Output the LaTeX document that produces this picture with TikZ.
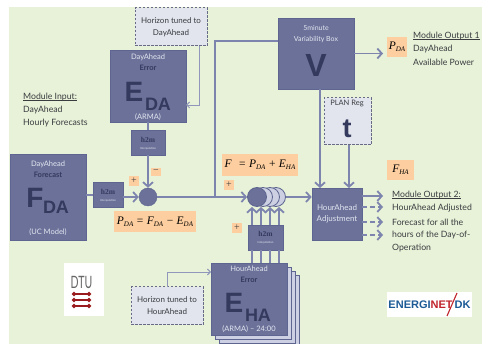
\documentclass[tikz,border=0pt]{standalone}
\usepackage{fontspec}
\setmainfont{Lato}
\newfontfamily\eqfont{Liberation Serif}
\newfontfamily\bigfont{Liberation Sans}
\usetikzlibrary{arrows.meta}
\definecolor{pagegreen}{HTML}{E8F2D8}
\definecolor{boxblue}{HTML}{6B7199}
\definecolor{boxedge}{HTML}{5D6590}
\definecolor{darkink}{HTML}{343A5E}
\definecolor{paleink}{HTML}{E3E6F0}
\definecolor{dashfill}{HTML}{E2E5EE}
\definecolor{flowblue}{HTML}{7D85AF}
\definecolor{stackfill}{HTML}{CDD0E2}
\definecolor{sumorange}{HTML}{FDCFA0}
\definecolor{textgrey}{HTML}{3A3C40}
\definecolor{dtured}{HTML}{9A1B1E}
\definecolor{enblue}{HTML}{1C5A96}
\definecolor{enred}{HTML}{C0242C}
\newcommand{\low}[1]{\raisebox{-.45ex}{\scriptsize #1}}
\tikzset{
  bluebox/.style={rectangle,fill=boxblue,draw=boxedge,line width=.6pt,inner sep=0pt},
  pagebox/.style={rectangle,fill=stackfill,draw=boxedge,line width=.6pt,inner sep=0pt,minimum width=76pt,minimum height=72pt},
  dashbox/.style={rectangle,fill=dashfill,draw=darkink!75,dash pattern=on 2.5pt off 1.5pt,line width=1pt,inner sep=0pt,align=center,text=textgrey,font=\fontsize{8}{12}\selectfont},
  sumbox/.style={rectangle,fill=sumorange,inner sep=0pt,text=black,font=\eqfont\itshape\fontsize{11.5}{12}\selectfont},
  signbox/.style={rectangle,fill=sumorange,inner sep=0pt,minimum size=10pt,text=textgrey,font=\eqfont\fontsize{10}{10}\selectfont},
  title/.style={text=paleink,inner sep=0pt,font=\fontsize{7.5}{10}\selectfont,align=center},
  dark/.style={text=darkink,inner sep=0pt,font=\bfseries\fontsize{7.5}{10}\selectfont},
  big/.style={text=darkink,inner sep=0pt,font=\bigfont\bfseries\fontsize{28}{28}\selectfont},
  subs/.style={text=darkink,inner sep=0pt,font=\bigfont\bfseries\fontsize{18}{18}\selectfont},
  small/.style={text=paleink,inner sep=0pt,font=\fontsize{2.8}{3}\selectfont},
  hhm/.style={text=darkink,inner sep=0pt,font=\eqfont\bfseries\fontsize{7.5}{8}\selectfont},
  note/.style={text=textgrey,inner sep=0pt,anchor=west,font=\fontsize{8.7}{10}\selectfont},
  flow/.style={draw=flowblue,line width=1.8pt,-{Straight Barb[length=4.5pt,width=10pt,line width=1.8pt]}},
  plain/.style={draw=flowblue,line width=1.8pt},
  thin flow/.style={draw=flowblue!85,line width=.9pt,-{Straight Barb[length=3pt,width=6pt,line width=.9pt]}}
}
\begin{document}
\begin{tikzpicture}[x=1pt,y=-1pt]
  \useasboundingbox (0,0) rectangle (482,344);
  \fill[white] (0,0) rectangle (482,344);
  \fill[pagegreen] (9,7) rectangle (482,344);

  % boxes
  \node[dashbox,minimum width=72pt,minimum height=38pt] (hzda) at (171,27) {Horizon tuned to\\DayAhead};
  \node[bluebox,minimum width=76pt,minimum height=72pt] (eda) at (148,86) {};
  \node[bluebox,minimum width=34pt,minimum height=25pt] (hda) at (148,142.5) {};
  \node[bluebox,minimum width=76pt,minimum height=86pt] (fda) at (48,197) {};
  \node[bluebox,minimum width=30pt,minimum height=25pt] (hfc) at (108,195) {};
  \node[circle,fill=boxblue,draw=boxedge,minimum size=18pt,inner sep=0pt] (sum) at (148,197) {};
  \node[bluebox,minimum width=76pt,minimum height=71pt] (vbox) at (316,53.5) {};
  \node[dashbox,minimum width=47pt,minimum height=47pt] (plan) at (347.5,121.5) {};
  \node[bluebox,minimum width=50pt,minimum height=52pt] (adj) at (337,214) {};
  \node[bluebox,minimum width=35pt,minimum height=25pt] (hha) at (265.5,237.5) {};
  \node[dashbox,minimum width=72pt,minimum height=38pt] (hzha) at (167,306) {Horizon tuned to\\HourAhead};

  % stack of hour ahead pages
  \foreach \n/\dx in {3/12,2/8,1/4}
    \node[pagebox] (page\n) at (249+\dx,299+\dx) {};
  \node[bluebox,minimum width=76pt,minimum height=72pt] (eha) at (249,299) {};

  % stack of summing circles
  \foreach \n/\cx in {4/276,3/270,2/263}
    \node[circle,fill=stackfill,draw=boxedge,line width=.8pt,minimum size=19pt,inner sep=0pt] (st\n) at (\cx,197) {};
  \node[circle,fill=boxblue,draw=boxedge,line width=.8pt,minimum size=19pt,inner sep=0pt] (st1) at (257,197) {};

  % texts in the boxes
  \node[title] (edat) at (148,57) {DayAhead};
  \node[dark] (edae) at (148,68) {Error};
  \node[big] (edab) at (134,92) {E};
  \node[subs] (edas) at (158,104) {DA};
  \node[title] (edaa) at (148,117.5) {(ARMA)};
  \node[hhm] (hdat) at (148,140) {h2m};
  \node[small] (hdas) at (148,149) {Interpolation};

  \node[title] (fdat) at (48,164) {DayAhead};
  \node[dark] (fdae) at (48,175) {Forecast};
  \node[big] (fdab) at (35,198) {F};
  \node[subs] (fdas) at (56,207) {DA};
  \node[title] (fdam) at (48,232) {(UC Model)};
  \node[hhm] (hfct) at (108,192) {h2m};
  \node[small] (hfcs) at (108,201) {Interpolation};

  \node[title,font=\fontsize{7}{10.5}\selectfont] (vt) at (316,34) {5minute\\Variability Box};
  \node[big,font=\bigfont\bfseries\fontsize{32}{32}\selectfont] (vl) at (316,65) {V};
  \node[text=textgrey,inner sep=0pt,font=\fontsize{7.5}{8}\selectfont] (plt) at (347,104) {PLAN Reg};
  \node[big,font=\bigfont\bfseries\fontsize{27}{27}\selectfont] (tl) at (347,129) {t};
  \node[title,align=center,font=\fontsize{8}{11.5}\selectfont] (adt) at (337,214) {HourAhead\\Adjustment};
  \node[hhm] (hhat) at (265.5,234) {h2m};
  \node[small] (hhas) at (265.5,243) {Interpolation};
  \node[title] (ehat) at (249,269) {HourAhead};
  \node[dark] (ehae) at (249,280) {Error};
  \node[big] (ehab) at (234,303) {E};
  \node[subs] (ehas) at (258,315) {HA};
  \node[title] (ehaa) at (249,329.5) {(ARMA) -- 24:00};

  % free ends
  \coordinate (vin) at (215,41);
  \coordinate (tee) at (215,197);
  \coordinate (vout) at (320,89);
  \coordinate (adjv) at (320,188);
  \coordinate (tout) at (349,145);
  \coordinate (adjt) at (349,188);
  \coordinate (hzdb) at (199,46);
  \coordinate (hzdc) at (199,105);
  \coordinate (edain) at (186,105);
  \coordinate (hzhb) at (167,287);
  \coordinate (hzhc) at (167,272);
  \coordinate (ehain) at (211,272);

  % connectors
  \draw[plain] (fda.east |- hfc) -- (hfc.west);
  \draw[flow] (hfc.east |- sum) -- (sum.west);
  \draw[plain] (eda) -- (hda);
  \draw[flow] (hda) -- (sum);
  \draw[flow] (sum) -- (st1);
  \draw[plain] (tee) -- (vin) -- (vin -| vbox.west);
  \draw[flow] (st4) -- (adj.west |- st4);
  \draw[flow] (vout) -- (adjv);
  \draw[flow] (tout) -- (adjt);
  \draw[thin flow] (hzdb) -- (hzdc) -- (edain);
  \draw[thin flow] (hzhb) -- (hzhc) -- (ehain);
  \foreach \x in {252,261,270,279}
  {
    \draw[plain] (\x,263) -- (\x,250);
    \draw[flow] (\x,225) -- (\x,207);
  }

  % orange labels
  \node[sumbox,minimum width=20pt,minimum height=20pt] (pda) at (397,47) {P\low{DA}};
  \node[sumbox,minimum width=27pt,minimum height=20pt] (fha) at (400.5,170) {F\low{HA}};
  \node[sumbox,minimum width=82pt,minimum height=21pt] (pdaeq) at (155,222) {P\low{DA} = F\low{DA} − E\low{DA}};
  \node[sumbox,minimum width=76pt,minimum height=22pt] (feq) at (260,165) {F\,\, = P\low{DA} + E\low{HA}};
  \node[signbox] (s1) at (134,181) {+};
  \node[signbox,minimum height=8pt] (s2) at (156,172) {−};
  \node[signbox] (s3) at (229,185) {+};
  \node[signbox] (s4) at (237,228) {+};
  \draw[flow] (vbox) -- (vbox.east -| 383,0);

  % outputs
  \foreach \n/\y in {1/196,2/207,3/222,4/235}
    \coordinate (out\n) at (383,\y);
  \draw[flow] (adj.east |- out1) -- (out1);
  \foreach \n in {2,3,4}
    \draw[flow,dash pattern=on 5pt off 3pt] (adj.east |- out\n) -- (out\n);

  % side notes
  \node[note] (inu) at (23,97) {\underbar{Module Input:}};
  \node[note] (in1) at (23,110) {DayAhead};
  \node[note] (in2) at (23,123) {Hourly Forecasts};
  \node[note] (ou1) at (413,36) {\underbar{Module Output 1}};
  \node[note] (ou2) at (413,49) {DayAhead};
  \node[note] (ou3) at (413,62) {Available Power};
  \node[note] (md0) at (392,195) {\underbar{Module Output 2:}};
  \node[note] (md1) at (392,208) {HourAhead Adjusted};
  \node[note] (md2) at (392,222) {Forecast for all the};
  \node[note] (md3) at (392,235) {hours of the Day-of-};
  \node[note] (md4) at (392,248) {Operation};

  % logos
  \node[rectangle,fill=white,minimum width=40pt,minimum height=53pt,inner sep=0pt] (dtu) at (84,289.5) {};
  \node[inner sep=0pt,text=black!60,font=\fontsize{17}{17}\selectfont,xscale=.62] (dtut) at (81.5,282.5) {DTU};
  \foreach \y in {294,300,306}
    \draw[dtured,line width=2.2pt,{Circle[length=4pt]}-{Circle[length=4pt]}] (72,\y) -- (91,\y);
  \node[rectangle,fill=white,minimum width=85pt,minimum height=25pt,inner sep=0pt] (enet) at (429.5,304.5) {};
  \node[inner sep=0pt,font=\bigfont\bfseries\fontsize{11}{11}\selectfont] (entx) at (429.5,305)
    {\textcolor{enblue}{ENERGI}\textcolor{enred}{NET}\hspace{2pt}\textcolor{enblue}{DK}};
  \draw[enred,line width=1.1pt] (447,316) -- (457,293);
\end{tikzpicture}
\end{document}
